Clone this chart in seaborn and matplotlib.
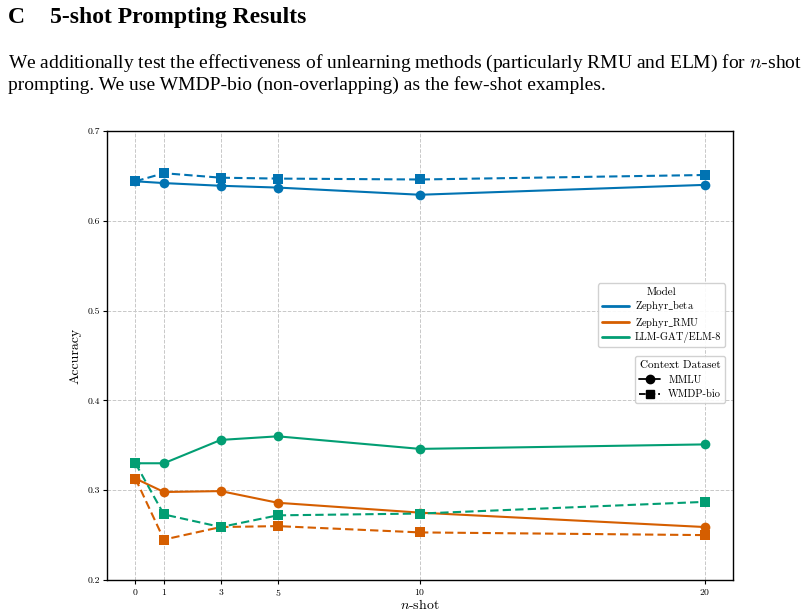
import numpy as np
import pandas as pd
import matplotlib.pyplot as plt
import seaborn as sns
from matplotlib.lines import Line2D

shots = [0, 1, 3, 5, 10, 20]
models = ["Zephyr_beta", "Zephyr_RMU", "LLM-GAT/ELM-8"]
model_labels = [r"Zephyr$\_$beta", r"Zephyr$\_$RMU", "LLM-GAT/ELM-8"]
datasets = ["MMLU", "WMDP-bio"]

beta_mmlu = [0.644, 0.642, 0.639, 0.637, 0.629, 0.640]
beta_wmdp = [0.644, 0.653, 0.648, 0.647, 0.646, 0.651]
rmu_mmlu = [0.313, 0.298, 0.299, 0.286, 0.275, 0.259]
rmu_wmdp = [0.313, 0.245, 0.259, 0.260, 0.253, 0.250]
elm_mmlu = [0.330, 0.330, 0.356, 0.360, 0.346, 0.351]
elm_wmdp = [0.330, 0.273, 0.259, 0.272, 0.274, 0.287]

series = {
    ("Zephyr_beta", "MMLU"): beta_mmlu,
    ("Zephyr_beta", "WMDP-bio"): beta_wmdp,
    ("Zephyr_RMU", "MMLU"): rmu_mmlu,
    ("Zephyr_RMU", "WMDP-bio"): rmu_wmdp,
    ("LLM-GAT/ELM-8", "MMLU"): elm_mmlu,
    ("LLM-GAT/ELM-8", "WMDP-bio"): elm_wmdp,
}
rows = []
for (m, d), vals in series.items():
    for s, v in zip(shots, vals):
        rows.append({"Model": m, "Context Dataset": d, "n-shot": s, "Accuracy": v})
df = pd.DataFrame(rows)

sns.set_style("whitegrid")
plt.rcParams["font.family"] = ["cmr10", "DejaVu Serif"]
plt.rcParams["mathtext.fontset"] = "cm"
plt.rcParams["axes.formatter.use_mathtext"] = True
for key in ["text.color", "axes.labelcolor", "xtick.color", "ytick.color"]:
    plt.rcParams[key] = "black"

cb = sns.color_palette("colorblind")
palette = {"Zephyr_beta": cb[0], "Zephyr_RMU": cb[3], "LLM-GAT/ELM-8": cb[2]}

fig = plt.figure(figsize=(8.05, 6.15), dpi=100)
ax = fig.add_axes([0.1329, 0.0569, 0.7777, 0.7301])

sns.lineplot(data=df, x="n-shot", y="Accuracy", hue="Model", style="Context Dataset",
             palette=palette, markers={"MMLU": "o", "WMDP-bio": "s"},
             dashes={"MMLU": "", "WMDP-bio": (4, 2)}, markersize=7, linewidth=1.5,
             markeredgewidth=0, legend=False, ax=ax)

ax.set_xlim(-1, 21)
ax.set_ylim(0.2, 0.7)
ax.set_xticks(shots)
ax.set_yticks([0.2, 0.3, 0.4, 0.5, 0.6, 0.7])
ax.set_yticklabels(["0.2", "0.3", "0.4", "0.5", "0.6", "0.7"])
ax.tick_params(labelsize=7, length=3, pad=2, left=True, bottom=True)
ax.grid(True, linestyle="--", color="#c8c8c8", linewidth=0.7)
for sp in ax.spines.values():
    sp.set_color("black")
    sp.set_linewidth(1.0)
ax.set_xlabel(r"$n$-shot", fontsize=10, labelpad=0)
ax.set_ylabel("Accuracy", fontsize=10)

model_handles = [Line2D([0], [0], color=palette[m], lw=2) for m in models]
leg1 = ax.legend(model_handles, model_labels, title="Model", loc="upper right",
                 bbox_to_anchor=(0.996, 0.672), fontsize=7.5, title_fontsize=8,
                 handlelength=2.6, labelspacing=0.25, borderpad=0.35,
                 handletextpad=0.6, framealpha=0.9)
ax.add_artist(leg1)
ds_handles = [Line2D([0], [0], color="black", lw=1.3, marker="o", ms=6, linestyle="-"),
              Line2D([0], [0], color="black", lw=1.3, marker="s", ms=6, linestyle="--")]
ax.legend(ds_handles, datasets, title="Context Dataset", loc="upper right",
          bbox_to_anchor=(0.996, 0.51), fontsize=7.5, title_fontsize=8,
          handlelength=2, framealpha=0.9)

fig.text(0.01, 0.972, "C", fontsize=17, fontweight="bold", family="Liberation Serif", va="center")
fig.text(0.062, 0.972, "5-shot Prompting Results", fontsize=17, fontweight="bold",
         family="Liberation Serif", va="center")
fig.text(0.01, 0.897, "We additionally test the effectiveness of unlearning methods (particularly RMU and ELM) for $n$-shot",
         fontsize=14, family="Liberation Serif", va="center")
fig.text(0.01, 0.861, "prompting. We use WMDP-bio (non-overlapping) as the few-shot examples.",
         fontsize=14, family="Liberation Serif", va="center")

fig.savefig("out.png", dpi=100)
